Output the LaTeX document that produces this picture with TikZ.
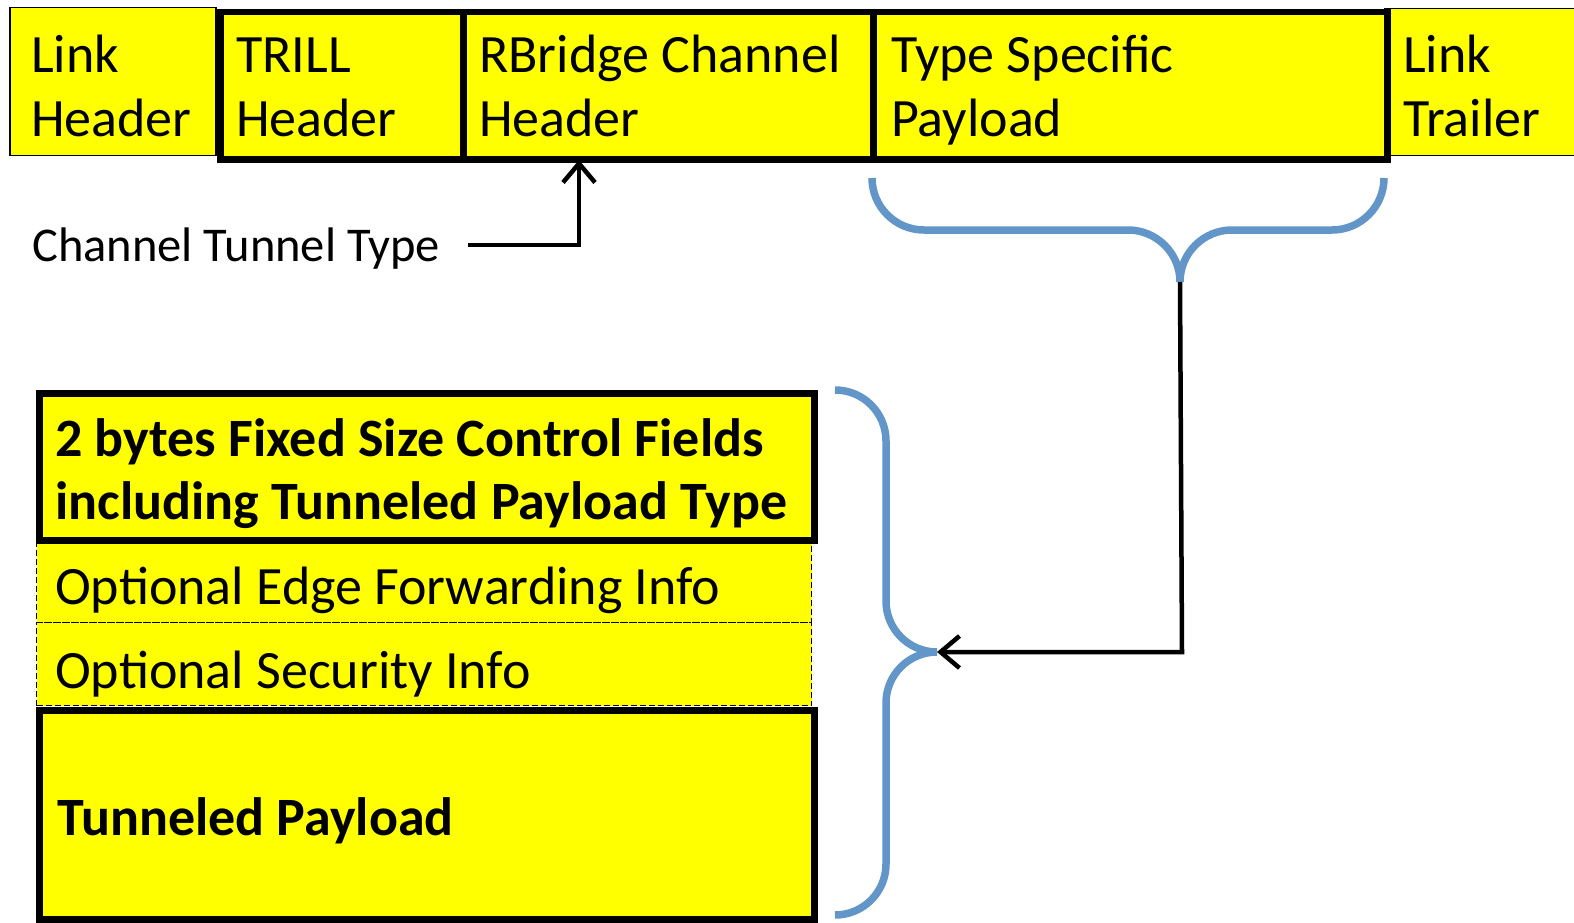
\documentclass[tikz,border=0pt]{standalone}
\usepackage{fontspec}
\setmainfont{Carlito}
\usetikzlibrary{arrows.meta}
\definecolor{fieldyellow}{RGB}{255,255,0}
\definecolor{braceblue}{RGB}{98,150,200}
\begin{document}
\begin{tikzpicture}[x=1pt,y=-1pt,
  thinbox/.style={draw=black, line width=1.5pt, fill=fieldyellow, inner sep=0pt, anchor=north west},
  thickbox/.style={draw=black, line width=6.5pt, fill=fieldyellow, inner sep=0pt, anchor=north west},
  dashbox/.style={draw=black, line width=1.4pt, dash pattern=on 6pt off 3pt, fill=fieldyellow, inner sep=0pt, anchor=north west},
  lbl/.style={anchor=base west, inner sep=0pt, align=left, font=\fontsize{54}{63}\selectfont},
  boldlbl/.style={lbl, font=\fontsize{54}{63}\selectfont\bfseries},
  conn/.style={draw=black, line width=4.5pt},
  tip/.style={-{Straight Barb[length=19pt,width=32pt]}},
  brace/.style={draw=braceblue, line width=7.5pt}
]
\useasboundingbox (0,0) rectangle (1574,923);

% top row
\node[thinbox, minimum width=206pt, minimum height=148pt] (linkhdr) at (9,7) {};
\node[thinbox, minimum width=216pt, minimum height=147pt] (linktrl) at (1384,8) {};
\node[thickbox, minimum width=243pt, minimum height=147pt] (trill) at (217,9) {};
\node[thickbox, minimum width=410pt, minimum height=147pt] (rbridge) at (460,9) {};
\node[thickbox, minimum width=514pt, minimum height=147pt] (typespec) at (870,9) {};

% (base anchor of a multi-line node = baseline of its last line)
\node[lbl] (linkhdrtxt) at (31,136) {Link\\Header};
\node[lbl] (trilltxt) at (236,136) {TRILL\\Header};
\node[lbl] (rbridgetxt) at (479,136) {RBridge Channel\\Header};
\node[lbl] (typespectxt) at (891,136) {Type Specific\\Payload};
\node[lbl] (linktrltxt) at (1403,136) {Link\\Trailer};

% channel tunnel type
\node[lbl, font=\fontsize{48.5}{56}\selectfont] (ctt) at (32,261) {Channel Tunnel Type};
\coordinate (cttstart) at (468,245);
\coordinate (cttend) at (579,160);
\draw[conn, tip] (cttstart) -| (cttend);

% lower stack
\node[dashbox, minimum width=775pt, minimum height=85pt] (edge) at (36,537) {};
\node[dashbox, minimum width=775pt, minimum height=83pt] (sec) at (36,622) {};
\node[thickbox, minimum width=775pt, minimum height=147pt] (ctrl) at (36,390) {};
\node[thickbox, minimum width=775pt, minimum height=209pt] (payload) at (36,707) {};

\node[boldlbl] (ctrltxt) at (55,519) {2 bytes Fixed Size Control Fields\\including Tunneled Payload Type};
\node[lbl] (edgetxt) at (55,604) {Optional Edge Forwarding Info};
\node[lbl] (sectxt) at (55,688) {Optional Security Info};
\node[boldlbl] (payloadtxt) at (57,835) {Tunneled Payload};

% top brace
\coordinate (toptip) at (1180,282);
\draw[brace] (872,178) .. controls (872,206.7) and (895.3,230) .. (924,230)
  -- (1128,230) .. controls (1156.7,230) and (1180,253.3) .. (toptip);
\draw[brace] (1384,178) .. controls (1384,206.7) and (1360.7,230) .. (1332,230)
  -- (1232,230) .. controls (1203.3,230) and (1180,253.3) .. (toptip);

% left brace
\coordinate (lefttip) at (937,652);
\draw[brace] (835,390) .. controls (863.2,390) and (886,412.8) .. (886,441)
  -- (886,601) .. controls (886,629.2) and (908.8,652) .. (lefttip);
\draw[brace] (lefttip) .. controls (908.8,652) and (886,674.8) .. (886,703)
  -- (886,864) .. controls (886,892.2) and (863.2,915) .. (835,915);

% connector
\coordinate (bend) at (1182,652);
\draw[conn, tip] (toptip) -- (bend) -- (lefttip);
\end{tikzpicture}
\end{document}
